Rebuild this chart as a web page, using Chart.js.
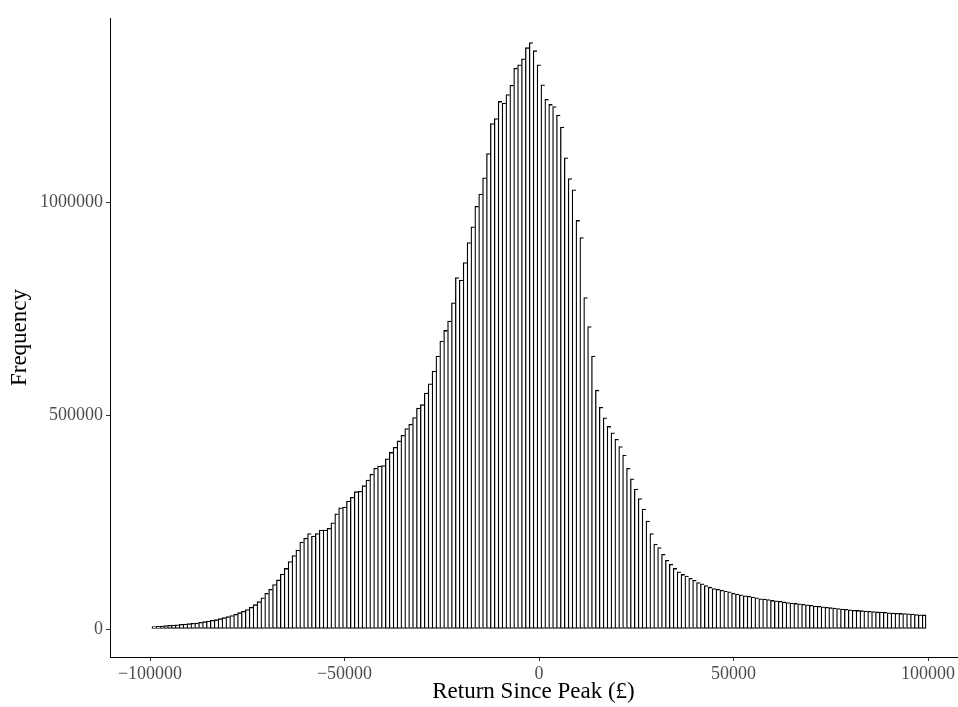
<!DOCTYPE html>
<html>
<head>
<meta charset="utf-8">
<script src="https://cdn.jsdelivr.net/npm/chart.js@4.4.1/dist/chart.umd.min.js"></script>
<style>
  html, body { margin: 0; padding: 0; background: #fff; }
  #wrap { width: 958px; height: 707px; }
</style>
</head>
<body>
<div id="wrap"><canvas id="hist" width="958" height="707"></canvas></div>
<script>
// Histogram bins: 1000 wide, centred from -99000 to 99000
const firstBinCenter = -99000
const binWidth = 1000

// Frequency per bin
const frequency = [
  5500, 6300, 7000, 7800, 8600, 9400, 10000, 11000, 11700, 12500,
  13300, 14000, 15600, 17200, 18800, 20300, 21900, 24200, 26600, 28900,
  31300, 34400, 38300, 41400, 45500, 51000, 57000, 64000, 73000, 83600,
  93000, 104000, 115000, 129000, 142000, 158000, 172000, 185000, 204000, 213000,
  224000, 218000, 224000, 232000, 232000, 236000, 249000, 270000, 284000, 286000,
  300000, 309000, 322000, 323000, 336000, 349000, 363000, 377000, 382000, 383000,
  399000, 414000, 426000, 441000, 454000, 470000, 480000, 496000, 518000, 526000,
  553000, 575000, 605000, 640000, 675000, 700000, 722000, 765000, 824000, 818000,
  859000, 906000, 943000, 991000, 1020000, 1058000, 1115000, 1185000, 1197000, 1237000,
  1233000, 1253000, 1275000, 1315000, 1323000, 1337000, 1363000, 1375000, 1356000, 1323000,
  1276000, 1242000, 1230000, 1225000, 1205000, 1177000, 1105000, 1056000, 1030000, 958000,
  918000, 777000, 709000, 640000, 560000, 520000, 495000, 475000, 460000, 445000,
  428000, 408000, 377000, 352000, 328000, 306000, 281000, 253000, 224000, 199000,
  191000, 175000, 161000, 152000, 142000, 134000, 128000, 124000, 119000, 114000,
  109000, 106000, 102000, 98000, 95000, 93000, 91000, 89000, 87000, 84000,
  82000, 80000, 78000, 77000, 75000, 73000, 71000, 70000, 69000, 67000,
  66000, 65000, 63500, 62000, 61000, 60000, 59000, 58000, 56500, 55500,
  54000, 53000, 52000, 51000, 50000, 49000, 48000, 47000, 46000, 45000,
  44000, 43500, 43000, 42000, 41500, 41000, 40000, 39500, 39000, 38000,
  37500, 37000, 36500, 36000, 35500, 35000, 34000, 33500, 33000
]

const xTicks = [-100000, -50000, 0, 50000, 100000]
const yTicks = [0, 500000, 1000000]

const binCenters = frequency.map((_, i) => firstBinCenter + i * binWidth)
const points = binCenters.map((x, i) => ({ x: x, y: frequency[i] }))

const serif = "'Liberation Serif', 'DejaVu Serif', serif"
const fmt = (v) => String(v).replace("-", "\u2212")
const last = frequency.length - 1

new Chart(document.getElementById("hist"), {
  type: "bar",
  data: {
    datasets: [
      {
        data: points,
        backgroundColor: "#ffffff",
        borderColor: "#000000",
        borderSkipped: false,
        borderWidth: (ctx) => ({ top: 1.3, bottom: 1.3, left: 1.3, right: ctx.dataIndex === last ? 1.3 : 0 }),
        barPercentage: 1,
        categoryPercentage: 1,
      },
    ],
  },
  options: {
    responsive: false,
    animation: false,
    layout: { padding: { top: 18, right: 1, left: 0, bottom: 0 } },
    plugins: { legend: { display: false }, tooltip: { enabled: false } },
    scales: {
      x: {
        type: "linear",
        min: -110283,
        max: 107455,
        offset: false,
        afterBuildTicks: (s) => { s.ticks = xTicks.map((v) => ({ value: v })) },
        afterFit: (s) => { s.height = 50 },
        grid: { display: true, offset: false, drawOnChartArea: false, drawTicks: true, tickLength: 4, color: "#333333" },
        border: { display: true, color: "#000000", width: 1 },
        ticks: { font: { family: serif, size: 18 }, color: "#4d4d4d", padding: 2, maxRotation: 0, autoSkip: false, callback: fmt },
        title: { display: true, text: "Return Since Peak (£)", font: { family: serif, size: 23 }, color: "#000000", padding: { top: 0, bottom: 1 } },
      },
      y: {
        type: "linear",
        min: -65650,
        max: 1432600,
        afterBuildTicks: (s) => { s.ticks = yTicks.map((v) => ({ value: v })) },
        afterFit: (s) => { s.width = 110 },
        grid: { display: true, offset: false, drawOnChartArea: false, drawTicks: true, tickLength: 4, color: "#333333" },
        border: { display: true, color: "#000000", width: 1 },
        ticks: { font: { family: serif, size: 18 }, color: "#4d4d4d", padding: 3, callback: fmt },
        title: { display: true, text: "Frequency", font: { family: serif, size: 23 }, color: "#000000", padding: { top: 6, bottom: 0 } },
      },
    },
  },
})
</script>
</body>
</html>
